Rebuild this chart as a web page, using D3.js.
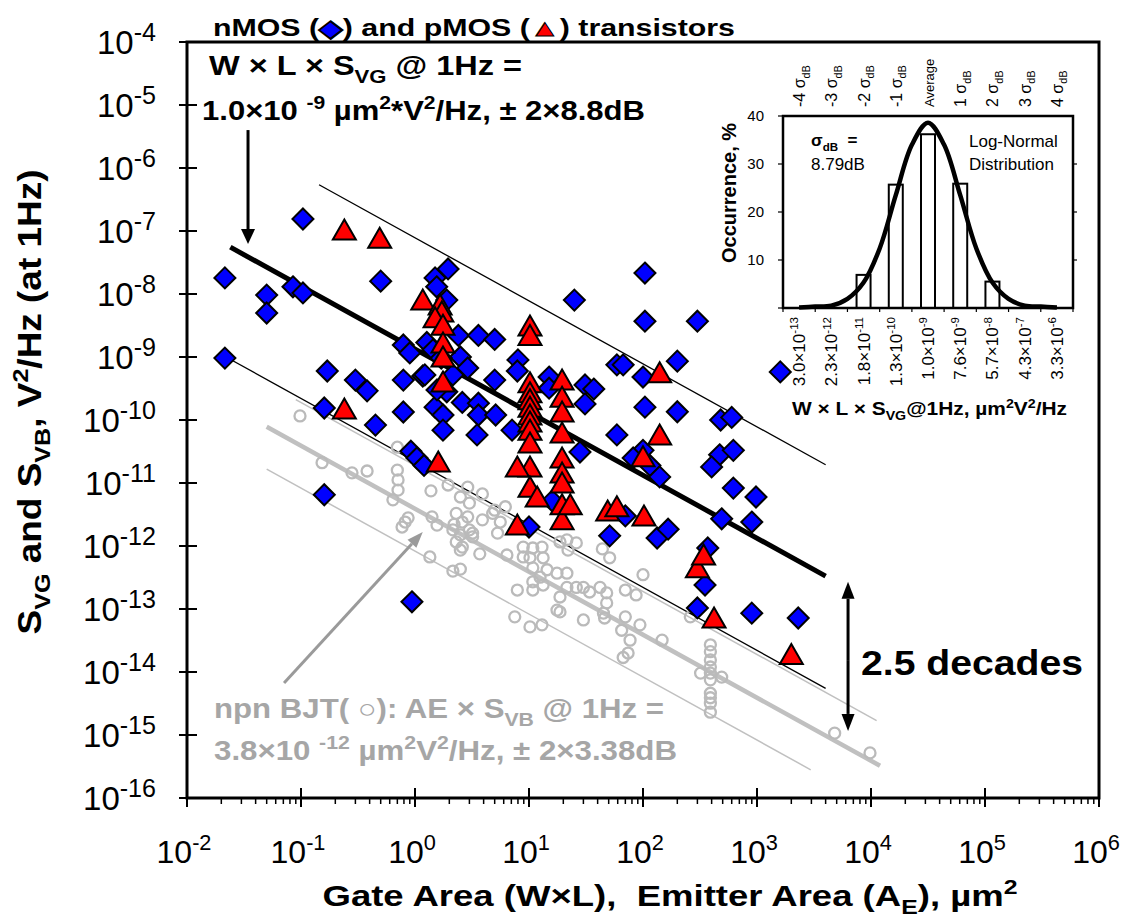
<!DOCTYPE html>
<html>
<head>
<meta charset="utf-8">
<script src="https://cdn.jsdelivr.net/npm/d3@7"></script>
<style>
body { margin: 0; background: #fff; }
svg text { font-family: "Liberation Sans", Arial, sans-serif; white-space: pre; }
</style>
</head>
<body>
<svg id="chart" width="1125" height="922"></svg>
<script>
// nMOS points: [gate area um^2, S_VG V^2/Hz]
var nmosData = [
  [0.0215,1.8e-8],[0.0215,9.6e-10],[0.050,9.6e-9],[0.050,5.0e-9],[0.085,1.3e-8],[0.104,1.04e-8],[0.104,1.55e-7],[0.50,1.6e-8],
  [0.17,6.0e-10],[0.30,4.3e-10],[0.38,2.9e-10],[0.16,1.55e-10],[0.45,8.3e-11],[0.16,6.5e-12],[0.79,4.3e-10],[0.79,1.34e-10],
  [0.79,1.55e-9],[0.90,1.16e-9],[1.17,5.0e-10],[0.92,3.2e-11],[1.04,2.5e-11],[1.2,1.9e-11],[0.94,1.3e-13],
  [1.5,1.8e-8],[1.55,1.3e-8],[1.95,2.5e-8],[1.9,8.0e-9],[2.4,2.2e-9],[3.6,2.2e-9],[5.0,1.9e-9],[1.27,1.7e-9],[1.44,1.3e-9],
  [2.5,1.0e-9],[2.9,6.7e-10],[1.22,5.2e-10],[2.15,5.2e-10],[5.0,4.3e-10],[8.0,9.0e-10],[7.9,6.0e-10],[15,4.8e-10],[15,3.2e-10],
  [31,3.6e-10],[37,3.1e-10],[31,1.8e-10],[59,7.5e-10],[67,7.5e-10],[59,5.8e-11],[1.9,2.8e-10],[1.5,1.6e-10],[2.6,1.9e-10],
  [3.6,1.85e-10],[3.6,1.2e-10],[5.1,1.2e-10],[1.76,1.2e-10],[1.76,6.9e-11],[3.5,5.8e-11],[7.1,6.9e-11],[28,3.1e-11],[16,5.2e-12],
  [10,2.0e-12],[51,1.45e-12],[25,8.0e-9],[1.56,3.0e-10],[1.7,9.6e-10],
  [104,2.15e-8],[104,3.7e-9],[300,3.7e-9],[200,8.6e-10],[100,4.8e-10],[1600,5.8e-10],[104,1.6e-10],[200,1.35e-10],[480,1.0e-10],
  [600,1.1e-10],[100,3.3e-11],[82,2.5e-11],[115,1.9e-11],[140,1.25e-11],[470,2.8e-11],[620,3.3e-11],[400,1.8e-11],[620,8.3e-12],
  [980,6.0e-12],[490,2.7e-12],[900,2.4e-12],[133,1.34e-12],[166,1.85e-12],[370,9.3e-13],[350,2.4e-13],[300,1.04e-13],[900,8.6e-14],
  [2300,7.2e-14],[70,3.0e-12]
];

// pMOS points
var pmosData = [
  [0.24,1.04e-7],[0.49,7.7e-8],[1.17,8.0e-9],[0.24,1.5e-10],[1.6,2.15e-11],[1.66,6.7e-9],[1.72,5.2e-9],[1.5,4.2e-9],[1.76,3.2e-9],
  [1.76,1.67e-9],[1.76,1.0e-9],[1.76,4.0e-10],
  [10.2,3.1e-9],[10.2,2.2e-9],[10.2,3.9e-10],[10.2,2.7e-10],[10.2,2.1e-10],[10.2,1.6e-10],[10.2,1.2e-10],[10.2,9.3e-11],[10.2,6.9e-11],
  [10.2,4.3e-11],[10.2,1.8e-11],[10.2,8.6e-12],[7.9,1.8e-11],[11.8,6.0e-12],[7.9,2.15e-12],
  [19.5,4.3e-10],[19.5,2.3e-10],[19.5,1.34e-10],[19.5,6.2e-11],[19.5,2.5e-11],[19.5,1.44e-11],[19.5,1.0e-11],[19.5,4.5e-12],[19.5,2.6e-12],
  [23,4.5e-12],[49,3.6e-12],[59,4.2e-12],[102,3.0e-12],[140,5.6e-10],[140,5.8e-11],[100,2.6e-11],[300,4.5e-13],[340,7.2e-13],
  [420,7.2e-14],[2000,1.9e-14]
];

// npn BJT points: [emitter area, S_VB]
var bjtData = [
  [0.098,1.16e-10],[0.153,2.1e-11],[0.28,1.45e-11],[0.38,1.55e-11],[0.70,3.7e-11],[0.70,1.6e-11],[0.71,1.12e-11],[0.71,7.7e-12],
  [0.64,5.4e-12],[0.82,2.4e-12],[0.77,2.0e-12],[0.87,2.8e-12],[1.38,7.5e-12],[1.95,9.3e-12],[2.9,8.6e-12],[3.9,6.7e-12],[2.5,6.0e-12],
  [3.0,4.8e-12],[6.2,4.2e-12],[1.41,2.9e-12],[1.56,2.15e-12],[2.3,3.3e-12],[2.6,2.4e-12],[3.9,2.6e-12],[4.8,3.3e-12],[5.6,2.4e-12],
  [2.5,1.5e-12],[3.2,1.6e-12],[2.6,9.6e-13],[3.7,7.5e-13],[1.35,6.7e-13],[2.15,4.0e-13],[2.5,4.3e-13],[8.9,9.6e-13],[10.8,9.3e-13],
  [13,9.6e-13],[13.3,6.5e-13],[10.2,6.5e-13],[21.5,1.25e-12],[26,1.12e-12],[44,9.0e-13],[51,6.5e-13],[7.9,2.0e-13],[10.8,2.0e-13],
  [13.3,2.4e-13],[17.6,3.7e-13],[21.5,3.7e-13],[26,2.2e-13],[34,1.86e-13],[42,2.2e-13],[48,1.8e-13],[70,2.0e-13],[100,3.5e-13],
  [10.8,4.5e-13],[14.4,4.2e-13],[3.0,1.8e-12],[2.3,1.16e-12],[6.4,7.2e-13],[5.3,1.6e-12],[12.5,3.2e-13],[18.7,1.55e-13],[17.6,9.6e-14],
  [7.5,7.5e-14],[10.2,5.2e-14],[13,5.6e-14],[22,8.6e-13],[2.9,2.9e-12],[5.0,3.7e-12],[2.15,1.8e-12],[18.7,1.16e-12],[30,2.2e-13],
  [48,1.25e-13],[18.7,9.0e-14],[30,6.7e-14],[46,7.2e-14],[70,7.5e-14],[94,5.6e-14],[65,4.6e-14],[77,3.2e-14],[147,3.2e-14],[74,2.0e-14],
  [67,1.7e-14],[260,7.5e-14],
  [390,2.7e-14],[390,2.1e-14],[390,1.55e-14],[390,1.2e-14],[390,9.6e-15],[390,7.5e-15],[390,4.6e-15],[390,3.9e-15],[390,3.2e-15],[390,2.3e-15],
  [320,9.6e-15],[490,8.3e-15],[4800,1.07e-15],[9800,5.2e-16],[45,8.6e-14],[87,1.67e-13],[3.2,1.4e-12],[2.5,8.6e-13],[10.8,2.7e-13],
  [2.2,2.2e-12],[21.5,2.2e-13],[8.9,6.7e-13]
];

// fitted area*S lines: constant K (S = K / area), center, +2sigma, -2sigma, and drawn area range
var mosFitK = [1.33e-9, 7.8e-8, 2.2e-11];
var mosFitRange = [[0.024, 4000], [0.144, 4000], [0.021, 4000]];
var bjtFitK = [3.9e-12, 1.9e-11, 8.3e-13];
var bjtFitRange = [[0.050, 12000], [0.090, 11200], [0.050, 2960]];

var xTickValues = [1e-2, 1e-1, 1e0, 1e1, 1e2, 1e3, 1e4, 1e5, 1e6];
var yTickValues = [1e-16, 1e-15, 1e-14, 1e-13, 1e-12, 1e-11, 1e-10, 1e-9, 1e-8, 1e-7, 1e-6, 1e-5, 1e-4];

// inset histogram
var binMantissa = ["3.0", "2.3", "1.8", "1.3", "1.0", "7.6", "5.7", "4.3", "3.3"];
var binExponent = ["-13", "-12", "-11", "-10", "-9", "-9", "-8", "-7", "-6"];
var binOccurrence = [0, 0, 6.9, 25.7, 36.2, 25.9, 5.5, 0, 0];
var sigmaLabels = ["-4", "-3", "-2", "-1", "Average", "1", "2", "3", "4"];
var curveSigma = [-4, -3.5, -3, -2.5, -2, -1.5, -1, -0.5, 0, 0.5, 1, 1.5, 2, 2.5, 3, 3.5, 4];
var curveOccurrence = [0.1, 0.3, 0.5, 1.9, 5.3, 12.4, 23.5, 34, 38.6, 34, 23.5, 12.4, 5.3, 1.9, 0.5, 0.3, 0.1];
var occTicks = [0, 10, 20, 30, 40];

var svg = d3.select("#chart");
var pL = 187, pR = 1099, pT = 42, pB = 798;

var x = d3.scaleLog().domain([1e-2, 1e6]).range([pL, pR]);
var y = d3.scaleLog().domain([1e-16, 1e-4]).range([pB, pT]);

// text with sub / superscripts
function rich(sel, parts, base, ratio) {
    var shift = 0;
    ratio = ratio || 0.68;
    parts.forEach(function(p) {
        var target = p[1] === "sup" ? -base * 0.4 : (p[1] === "sub" ? base * 0.28 : 0);
        var t = sel.append("tspan").text(p[0]).attr("dy", target - shift);
        if (p[1]) t.attr("font-size", base * ratio);
        shift = target;
    });
    return sel;
}

function arrowHead(g, x1, y1, x2, y2, color, len, w) {
    var a = Math.atan2(y2 - y1, x2 - x1);
    var bx = x2 - len * Math.cos(a), by = y2 - len * Math.sin(a);
    var nx = -Math.sin(a) * w / 2, ny = Math.cos(a) * w / 2;
    g.append("path")
        .attr("d", "M" + x2 + "," + y2 + "L" + (bx + nx) + "," + (by + ny) + "L" + (bx - nx) + "," + (by - ny) + "Z")
        .attr("fill", color);
    return [bx, by];
}

// fitted lines
var fitG = svg.append("g");
function fitLine(k, range, color, width) {
    fitG.append("line")
        .attr("x1", x(range[0])).attr("y1", y(k / range[0]))
        .attr("x2", x(range[1])).attr("y2", y(k / range[1]))
        .attr("stroke", color).attr("stroke-width", width);
}
bjtFitK.forEach(function(k, i) { fitLine(k, bjtFitRange[i], "#c0c0c0", i === 0 ? 4.5 : 1.5); });
mosFitK.forEach(function(k, i) { fitLine(k, mosFitRange[i], "#000", i === 0 ? 5 : 1.3); });

// BJT circles
svg.append("g").selectAll("circle")
    .data(bjtData)
    .enter().append("circle")
    .attr("cx", function(d) { return x(d[0]); })
    .attr("cy", function(d) { return y(d[1]); })
    .attr("r", 5.5)
    .attr("fill", "none")
    .attr("stroke", "#bababa")
    .attr("stroke-width", 2.3);

// nMOS diamonds
svg.append("g").selectAll("path")
    .data(nmosData)
    .enter().append("path")
    .attr("transform", function(d) { return "translate(" + x(d[0]) + "," + y(d[1]) + ")"; })
    .attr("d", "M0,-10.5L10.5,0L0,10.5L-10.5,0Z")
    .attr("fill", "#0000ff")
    .attr("stroke", "#000")
    .attr("stroke-width", 2);

// pMOS triangles
svg.append("g").selectAll("path")
    .data(pmosData)
    .enter().append("path")
    .attr("transform", function(d) { return "translate(" + x(d[0]) + "," + y(d[1]) + ")"; })
    .attr("d", "M0,-10.5L11.5,9.5L-11.5,9.5Z")
    .attr("fill", "#ff0000")
    .attr("stroke", "#000")
    .attr("stroke-width", 2);

// frame
svg.append("rect")
    .attr("x", pL).attr("y", pT)
    .attr("width", pR - pL).attr("height", pB - pT)
    .attr("fill", "none").attr("stroke", "#000").attr("stroke-width", 3);

// axis ticks
var axisG = svg.append("g").attr("stroke", "#000");
x.ticks().forEach(function(v) {
    var major = xTickValues.some(function(t) { return Math.abs(t - v) / t < 1e-6; });
    axisG.append("line")
        .attr("x1", x(v)).attr("x2", x(v))
        .attr("y1", major ? pB - 10 : pB).attr("y2", pB + (major ? 9 : 6))
        .attr("stroke-width", major ? 2 : 1.5);
});
y.ticks().forEach(function(v) {
    var major = yTickValues.some(function(t) { return Math.abs(t - v) / t < 1e-6; });
    axisG.append("line")
        .attr("y1", y(v)).attr("y2", y(v))
        .attr("x1", pL - (major ? 8 : 6)).attr("x2", major ? pL + 10 : pL)
        .attr("stroke-width", major ? 2 : 1.5);
});

// tick labels
xTickValues.forEach(function(v) {
    var t = svg.append("text")
        .attr("x", x(v) - 3).attr("y", 863)
        .attr("text-anchor", "middle")
        .attr("font-size", 32);
    rich(t, [["10"], [String(Math.round(Math.log10(v))), "sup"]], 32, 0.68);
});
yTickValues.forEach(function(v) {
    var t = svg.append("text")
        .attr("x", 156).attr("y", y(v) + 12)
        .attr("text-anchor", "end")
        .attr("font-size", 33);
    rich(t, [["10"], [String(Math.round(Math.log10(v))), "sup"]], 33, 0.76);
});

// axis titles
rich(svg.append("text")
    .attr("x", 670).attr("y", 906)
    .attr("text-anchor", "middle")
    .attr("font-size", 30).attr("font-weight", "bold")
    .attr("textLength", 695).attr("lengthAdjust", "spacingAndGlyphs"),
    [["Gate Area (W×L),  Emitter Area (A"], ["E", "sub"], ["), µm"], ["2", "sup"]], 30);

rich(svg.append("text")
    .attr("transform", "translate(41,402) rotate(-90)")
    .attr("text-anchor", "middle")
    .attr("font-size", 33).attr("font-weight", "bold")
    .attr("textLength", 465).attr("lengthAdjust", "spacingAndGlyphs"),
    [["S"], ["VG", "sub"], [" and S"], ["VB", "sub"], [", V"], ["2", "sup"], ["/Hz (at 1Hz)"]], 33);

// chart title
var title = svg.append("text")
    .attr("x", 213).attr("y", 36)
    .attr("font-size", 23).attr("font-weight", "bold")
    .attr("textLength", 522).attr("lengthAdjust", "spacingAndGlyphs");
title.append("tspan").text("nMOS (");
title.append("tspan").text("◆").attr("fill", "#0000ff").attr("stroke", "#000").attr("stroke-width", 1);
title.append("tspan").text(") and pMOS (");
title.append("tspan").text("▲").attr("fill", "#ff0000").attr("stroke", "#000").attr("stroke-width", 1);
title.append("tspan").text(") transistors");

// nMOS annotation
rich(svg.append("text")
    .attr("x", 209).attr("y", 75)
    .attr("font-size", 28).attr("font-weight", "bold")
    .attr("textLength", 313).attr("lengthAdjust", "spacingAndGlyphs"),
    [["W × L × S"], ["VG", "sub"], [" @ 1Hz ="]], 28);
rich(svg.append("text")
    .attr("x", 202).attr("y", 120)
    .attr("font-size", 28).attr("font-weight", "bold")
    .attr("textLength", 443).attr("lengthAdjust", "spacingAndGlyphs"),
    [["1.0×10 "], ["-9", "sup"], [" µm"], ["2", "sup"], ["*V"], ["2", "sup"], ["/Hz, ± 2×8.8dB"]], 28);

// BJT annotation
rich(svg.append("text")
    .attr("x", 214).attr("y", 718)
    .attr("font-size", 27).attr("font-weight", "bold").attr("fill", "#a6a6a6")
    .attr("textLength", 450).attr("lengthAdjust", "spacingAndGlyphs"),
    [["npn BJT( ○): AE × S"], ["VB", "sub"], [" @ 1Hz ="]], 27);
rich(svg.append("text")
    .attr("x", 214).attr("y", 760)
    .attr("font-size", 27).attr("font-weight", "bold").attr("fill", "#a6a6a6")
    .attr("textLength", 463).attr("lengthAdjust", "spacingAndGlyphs"),
    [["3.8×10 "], ["-12", "sup"], [" µm"], ["2", "sup"], ["V"], ["2", "sup"], ["/Hz, ± 2×3.38dB"]], 27);

svg.append("text")
    .attr("x", 861).attr("y", 675)
    .attr("font-size", 35).attr("font-weight", "bold")
    .attr("textLength", 222).attr("lengthAdjust", "spacingAndGlyphs")
    .text("2.5 decades");

// arrows
var arrowG = svg.append("g");
function arrow(x1, y1, x2, y2, color, width, len, w) {
    var b = arrowHead(arrowG, x1, y1, x2, y2, color, len, w);
    arrowG.append("line")
        .attr("x1", x1).attr("y1", y1).attr("x2", b[0]).attr("y2", b[1])
        .attr("stroke", color).attr("stroke-width", width);
}
arrow(x(0.0343), y(4.0e-6), x(0.0343), y(6.2e-8), "#000", 3, 15, 14);
arrow(x(0.071), y(6.7e-15), x(1.17), y(1.67e-12), "#9a9a9a", 3, 16, 12);
arrow(x(6290), y(1.5e-14), x(6290), y(2.7e-13), "#000", 3, 17, 13);
arrow(x(6290), y(1.5e-14), x(6290), y(1.16e-15), "#000", 3, 17, 13);

// ---- inset histogram ----
var inL = 783, inR = 1073, inT = 116, inB = 308;
var inset = svg.append("g");
var band = d3.scaleBand().domain(d3.range(binOccurrence.length)).range([inL, inR]);
var sx = d3.scaleLinear().domain([-4.5, 4.5]).range([inL, inR]);
var sy = d3.scaleLinear().domain([0, 40]).range([inB, inT]);

inset.selectAll(".hbar")
    .data(binOccurrence.map(function(d, i) { return [i, d]; }).filter(function(d) { return d[1] > 0; }))
    .enter().append("rect")
    .attr("x", function(d) { return band(d[0]) + band.bandwidth() / 2 - 7; })
    .attr("width", 14)
    .attr("y", function(d) { return sy(d[1]); })
    .attr("height", function(d) { return sy(0) - sy(d[1]); })
    .attr("fill", "#fff").attr("stroke", "#000").attr("stroke-width", 2);

inset.append("path")
    .datum(curveSigma.map(function(s, i) { return [s, curveOccurrence[i]]; }))
    .attr("d", d3.line().curve(d3.curveCatmullRom)
        .x(function(d) { return sx(d[0]); })
        .y(function(d) { return sy(d[1]); }))
    .attr("fill", "none").attr("stroke", "#000").attr("stroke-width", 4.5);

inset.append("rect")
    .attr("x", inL).attr("y", inT).attr("width", inR - inL).attr("height", inB - inT)
    .attr("fill", "none").attr("stroke", "#000").attr("stroke-width", 2.5);

occTicks.forEach(function(v) {
    inset.append("line").attr("x1", inL - 5).attr("x2", inL).attr("y1", sy(v)).attr("y2", sy(v))
        .attr("stroke", "#000").attr("stroke-width", 1.2);
    if (v > 0 && v < 40) inset.append("line").attr("x1", inR).attr("x2", inR + 4).attr("y1", sy(v)).attr("y2", sy(v))
        .attr("stroke", "#000").attr("stroke-width", 1.2);
    if (v > 0) inset.append("text").attr("x", 764).attr("y", sy(v) + 5)
        .attr("text-anchor", "end").attr("font-size", 15).text(v);
});
d3.range(binOccurrence.length + 1).forEach(function(i) {
    var bx = inL + i * band.bandwidth();
    inset.append("line").attr("x1", bx).attr("x2", bx).attr("y1", inB).attr("y2", inB + 4)
        .attr("stroke", "#000").attr("stroke-width", 1.2);
});

binMantissa.forEach(function(m, i) {
    var cx = band(i) + band.bandwidth() / 2 + 6;
    rich(inset.append("text")
        .attr("transform", "translate(" + cx + "," + (inB + 9) + ") rotate(-90)")
        .attr("text-anchor", "end").attr("font-size", 17),
        [[m + "×10"], [binExponent[i], "sup"]], 17);
    var lab = inset.append("text")
        .attr("transform", "translate(" + cx + ",107) rotate(-90)")
        .attr("font-size", 16);
    if (sigmaLabels[i] === "Average") lab.attr("font-size", 13).text("Average");
    else rich(lab, [[sigmaLabels[i] + " σ"], ["dB", "sub"]], 16);
});

inset.append("text")
    .attr("transform", "translate(736,193) rotate(-90)")
    .attr("text-anchor", "middle")
    .attr("font-size", 20).attr("font-weight", "bold")
    .text("Occurrence, %");

rich(inset.append("text")
    .attr("x", 792).attr("y", 415)
    .attr("font-size", 18).attr("font-weight", "bold")
    .attr("textLength", 275).attr("lengthAdjust", "spacingAndGlyphs"),
    [["W × L × S"], ["VG", "sub"], ["@1Hz, µm"], ["2", "sup"], ["V"], ["2", "sup"], ["/Hz"]], 18);

rich(inset.append("text").attr("x", 811).attr("y", 146).attr("font-size", 17).attr("font-weight", "bold"),
    [["σ"], ["dB", "sub"], ["  ="]], 17);
inset.append("text").attr("x", 811).attr("y", 170).attr("font-size", 17).text("8.79dB");
inset.append("text").attr("x", 969).attr("y", 147).attr("font-size", 17).text("Log-Normal");
inset.append("text").attr("x", 969).attr("y", 170).attr("font-size", 17).text("Distribution");
</script>
</body>
</html>
